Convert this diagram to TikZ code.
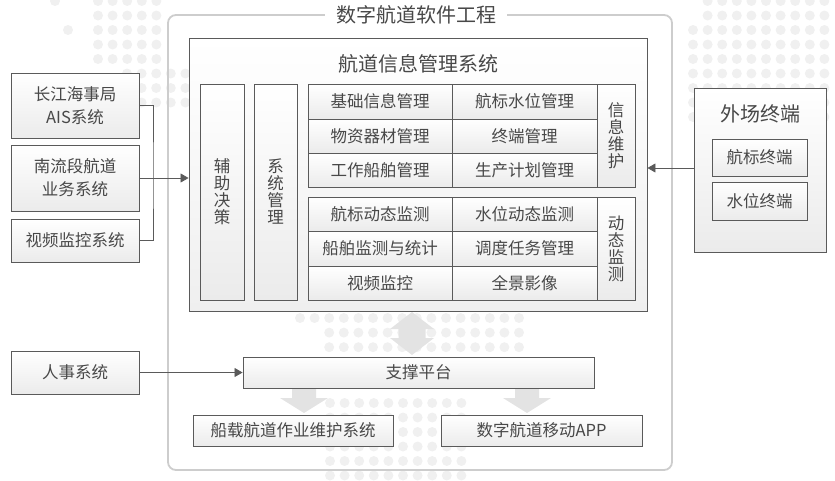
\documentclass[tikz,border=0pt]{standalone}
\usepackage{fontspec}
\setmainfont{Noto Sans CJK SC}
\usetikzlibrary{arrows.meta,shadows}
\definecolor{bd}{HTML}{5A5A5A}
\definecolor{tx}{HTML}{484848}
\definecolor{dotc}{HTML}{F0F0F0}
\definecolor{arrc}{HTML}{E3E3E3}
\definecolor{frm}{HTML}{CDCDCD}
\definecolor{bot}{HTML}{EBEBEB}
\tikzset{
  box/.style={draw=bd, line width=0.9pt, top color=white, bottom color=bot,
    text=tx, font=\fontsize{16.5}{17}\selectfont, inner sep=0pt, align=center,
    drop shadow={shadow xshift=0.8pt, shadow yshift=-0.8pt, fill=black!25}},
  twoline/.style={font=\fontsize{16.5}{23}\selectfont},
  cell/.style={box, drop shadow={shadow xshift=0pt, shadow yshift=0pt, opacity=0}},
  titletxt/.style={text=tx, font=\fontsize{20}{22}\selectfont, inner sep=0pt},
  conn/.style={draw=bd, line width=0.8pt},
  arr/.style={conn, -{Triangle[length=8pt,width=9pt]}},
  bigarrow/.style={fill=arrc, draw=none}
}
\begin{document}
\begin{tikzpicture}[x=1pt,y=-1pt]
\useasboundingbox (0,0) rectangle (835,480);
% decorative dots
\foreach \i in {0,...,4} \foreach \j in {0,...,4}
  \fill[dotc] ({98+\i*14.6},{1+\j*14.5}) circle (5pt);
\foreach \i in {0,...,4} \foreach \j in {5,6,7}
  \fill[dotc] ({127+\i*14.6},{1+\j*14.5}) circle (5pt);
\fill[dotc] (55,1) circle (5pt);
\fill[dotc] (68,30) circle (5pt);
\foreach \i in {0,...,9} \foreach \j in {0,...,8}{
  \ifnum\i=0 \ifnum\j<2 \else \fill[dotc] ({693+\i*14.6},{1+\j*14.5}) circle (5pt);\fi
  \else \fill[dotc] ({693+\i*14.6},{1+\j*14.5}) circle (5pt);\fi}
\foreach \i in {0,...,15} \fill[dotc] ({300+\i*14.6},318) circle (5pt);
\foreach \i in {2,...,15} \foreach \j in {1,2} \fill[dotc] ({300+\i*14.6},{318+\j*14.6}) circle (5pt);
\foreach \i in {0,...,9} \foreach \j in {0,...,5} \fill[dotc] ({330+\i*14.6},{403+\j*14.5}) circle (5pt);

% outer frame
\draw[frm, line width=1.8pt, rounded corners=8pt] (168,15) rectangle (672,470);
\node[titletxt, fill=white, inner xsep=11pt, inner ysep=3pt] (title) at (416,15) {数字航道软件工程};

% big grey arrows
\fill[bigarrow] (412,312) -- (434,329) -- (425.5,329) -- (425.5,338) -- (434,338) -- (412,355)
  -- (390,338) -- (398.5,338) -- (398.5,329) -- (390,329) -- cycle;
\fill[bigarrow] (292,388) -- (316,388) -- (316,398) -- (328,398) -- (304,413) -- (280,398) -- (292,398) -- cycle;
\fill[bigarrow] (515,388) -- (539,388) -- (539,398) -- (551,398) -- (527,413) -- (503,398) -- (515,398) -- cycle;

% information system
\node[box, top color=white, bottom color=bot!80, minimum width=458, minimum height=273] (info) at (418,174.5) {};
\node[titletxt] (infot) at (418,64) {航道信息管理系统};
\node[box, minimum width=44, minimum height=216] (fz) at (222,192) {辅\\助\\决\\策};
\node[box, minimum width=43, minimum height=216] (xt) at (275.5,192) {系\\统\\管\\理};

\node[cell, minimum width=144, minimum height=35] (a1) at (380,101.5) {基础信息管理};
\node[cell, minimum width=145, minimum height=35] (a2) at (524.5,101.5) {航标水位管理};
\node[cell, minimum width=144, minimum height=34] (b1) at (380,136) {物资器材管理};
\node[cell, minimum width=145, minimum height=34] (b2) at (524.5,136) {终端管理};
\node[cell, minimum width=144, minimum height=34] (c1) at (380,170) {工作船舶管理};
\node[cell, minimum width=145, minimum height=34] (c2) at (524.5,170) {生产计划管理};
\node[cell, minimum width=38, minimum height=103] (xx) at (616,135.5) {信\\息\\维\\护};

\node[cell, minimum width=144, minimum height=34] (d1) at (380,214) {航标动态监测};
\node[cell, minimum width=145, minimum height=34] (d2) at (524.5,214) {水位动态监测};
\node[cell, minimum width=144, minimum height=35] (e1) at (380,248.5) {船舶监测与统计};
\node[cell, minimum width=145, minimum height=35] (e2) at (524.5,248.5) {调度任务管理};
\node[cell, minimum width=144, minimum height=34] (f1) at (380,283) {视频监控};
\node[cell, minimum width=145, minimum height=34] (f2) at (524.5,283) {全景影像};
\node[cell, minimum width=38, minimum height=103] (dt) at (616,248.5) {动\\态\\监\\测};

% platform and bottom systems
\node[box, minimum width=351, minimum height=31] (zc) at (418.5,372.5) {支撑平台};
\node[box, minimum width=200, minimum height=31] (cz) at (293,430.5) {船载航道作业维护系统};
\node[box, minimum width=201, minimum height=31] (app) at (541.5,430.5) {数字航道移动APP};

% left external systems
\node[box, twoline, minimum width=128, minimum height=65] (ais) at (75,105.5) {长江海事局\\AIS系统};
\node[box, twoline, minimum width=128, minimum height=66] (nl) at (75,178) {南流段航道\\业务系统};
\node[box, minimum width=128, minimum height=43] (sp) at (75,240.5) {视频监控系统};
\node[box, minimum width=128, minimum height=43] (rs) at (75,372.5) {人事系统};

% right terminals
\node[box, minimum width=132, minimum height=164] (wc) at (760,170) {};
\node[titletxt] (wct) at (760,114) {外场终端};
\node[box, minimum width=95, minimum height=37] (hb) at (759.5,157.5) {航标终端};
\node[box, minimum width=95, minimum height=38] (sw) at (759.5,201) {水位终端};

% connectors
\coordinate (jn) at (153,178);
\draw[conn] (ais.east) -| (jn) |- (sp.east);
\draw[arr] (nl.east) -- (nl.east -| info.west);
\draw[arr] (rs.east) -- (zc.west);
\draw[arr] (wc.west |- 0,168) -- (info.east |- 0,168);
\end{tikzpicture}
\end{document}
